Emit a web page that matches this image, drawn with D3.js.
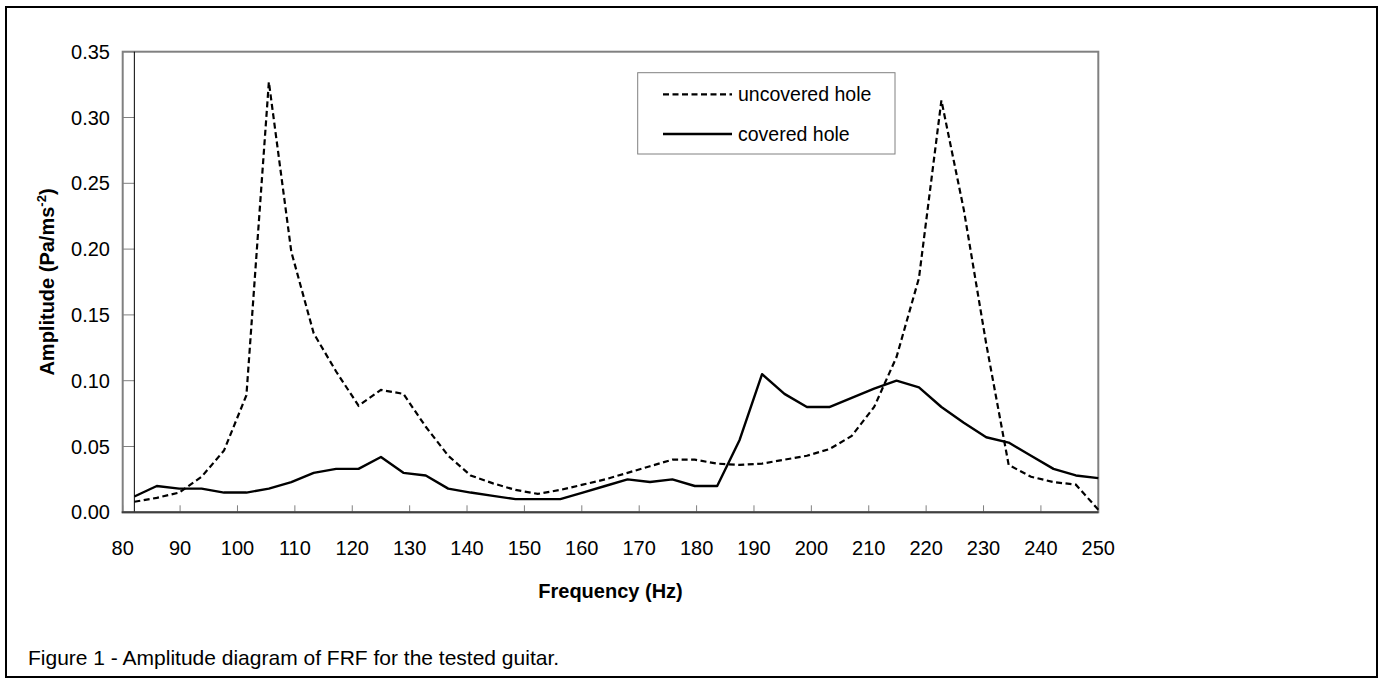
<!DOCTYPE html>
<html>
<head>
<meta charset="utf-8">
<script src="https://cdn.jsdelivr.net/npm/d3@7"></script>
<style>
  body { margin: 0; background: #fff; }
  svg { display: block; font-family: Arial, "Liberation Sans", sans-serif; }
</style>
</head>
<body>
<svg id="chart" width="1383" height="683"></svg>
<script>
// frequency bins (Hz)
const freqs = [
  82.03, 85.94, 89.84, 93.75, 97.66, 101.56, 105.47, 109.38, 113.28, 117.19,
  121.09, 125.00, 128.91, 132.81, 136.72, 140.63, 144.53, 148.44, 152.34, 156.25,
  160.16, 164.06, 167.97, 171.88, 175.78, 179.69, 183.59, 187.50, 191.41, 195.31,
  199.22, 203.13, 207.03, 210.94, 214.84, 218.75, 222.66, 226.56, 230.47, 234.38,
  238.28, 242.19, 246.09, 250.00
];
// amplitude, uncovered sound hole (dashed)
const uncovered = [
  0.008, 0.011, 0.015, 0.027, 0.047, 0.089, 0.327, 0.198, 0.136, 0.107,
  0.081, 0.093, 0.090, 0.065, 0.043, 0.028, 0.022, 0.017, 0.014, 0.017,
  0.021, 0.025, 0.030, 0.035, 0.040, 0.040, 0.037, 0.036, 0.037, 0.040,
  0.043, 0.048, 0.058, 0.080, 0.118, 0.178, 0.313, 0.230, 0.128, 0.036,
  0.027, 0.023, 0.021, 0.002
];
// amplitude, covered sound hole (solid)
const covered = [
  0.012, 0.020, 0.018, 0.018, 0.015, 0.015, 0.018, 0.023, 0.030, 0.033,
  0.033, 0.042, 0.030, 0.028, 0.018, 0.015, 0.0125, 0.010, 0.010, 0.010,
  0.015, 0.020, 0.025, 0.023, 0.025, 0.020, 0.020, 0.055, 0.105, 0.090,
  0.080, 0.080, 0.087, 0.094, 0.100, 0.095, 0.080, 0.068, 0.057, 0.053,
  0.043, 0.033, 0.028, 0.026
];
const xTicks = [80, 90, 100, 110, 120, 130, 140, 150, 160, 170, 180, 190, 200, 210, 220, 230, 240, 250];
const yTicks = [0, 0.05, 0.10, 0.15, 0.20, 0.25, 0.30, 0.35];
const seriesNames = ["uncovered hole", "covered hole"];

(() => {
  const svg = d3.select("#chart");
  const pLeft = 122.7, pRight = 1098.3, pTop = 51.7, pBottom = 512.3;

  const x = d3.scaleLinear().domain([80, 250]).range([pLeft, pRight]);
  const y = d3.scaleLinear().domain([0, 0.35]).range([pBottom, pTop]);

  // outer figure frame
  svg.append("rect")
    .attr("x", 6).attr("y", 7).attr("width", 1371).attr("height", 670)
    .attr("fill", "none").attr("stroke", "#000").attr("stroke-width", 2);

  // plot area border
  svg.append("rect")
    .attr("x", pLeft).attr("y", pTop).attr("width", pRight - pLeft).attr("height", pBottom - pTop)
    .attr("fill", "none").attr("stroke", "#808080").attr("stroke-width", 2);

  // y axis ticks (between frame and the value axis line)
  const axisX = x(freqs[0]);
  svg.append("g").selectAll("line")
    .data(yTicks)
    .enter().append("line")
    .attr("x1", pLeft).attr("x2", axisX)
    .attr("y1", d => y(d)).attr("y2", d => y(d))
    .attr("stroke", "#808080").attr("stroke-width", 1);

  svg.append("g").selectAll("text")
    .data(yTicks)
    .enter().append("text")
    .attr("x", 110).attr("y", d => y(d))
    .attr("dy", "0.35em")
    .attr("text-anchor", "end")
    .attr("font-size", 20)
    .text(d => d3.format(".2f")(d));

  // value axis line
  svg.append("line")
    .attr("x1", axisX).attr("x2", axisX)
    .attr("y1", pTop).attr("y2", pBottom)
    .attr("stroke", "#000").attr("stroke-width", 1);

  // x axis
  svg.append("g").selectAll("line")
    .data(xTicks)
    .enter().append("line")
    .attr("x1", d => x(d)).attr("x2", d => x(d))
    .attr("y1", pBottom).attr("y2", pBottom - 7)
    .attr("stroke", "#808080").attr("stroke-width", 1);

  svg.append("line")
    .attr("x1", pLeft - 1).attr("x2", pRight)
    .attr("y1", pBottom).attr("y2", pBottom)
    .attr("stroke", "#404040").attr("stroke-width", 2);

  svg.append("g").selectAll("text")
    .data(xTicks)
    .enter().append("text")
    .attr("x", d => x(d)).attr("y", 555)
    .attr("text-anchor", "middle")
    .attr("font-size", 20)
    .text(d => d);

  // axis titles
  svg.append("text")
    .attr("x", (pLeft + pRight) / 2).attr("y", 598)
    .attr("text-anchor", "middle")
    .attr("font-size", 20).attr("font-weight", "bold")
    .text("Frequency (Hz)");

  const yTitle = svg.append("text")
    .attr("transform", `translate(54,${(pTop + pBottom) / 2}) rotate(-90)`)
    .attr("text-anchor", "middle")
    .attr("font-size", 20).attr("font-weight", "bold");
  yTitle.append("tspan").text("Amplitude (Pa/ms");
  yTitle.append("tspan").attr("dy", -8).attr("font-size", 13).text("-2");
  yTitle.append("tspan").attr("dy", 8).text(")");

  // data lines
  const line = d3.line()
    .x((d, i) => x(freqs[i]))
    .y(d => y(d));

  svg.append("path")
    .datum(uncovered)
    .attr("d", line)
    .attr("fill", "none").attr("stroke", "#000")
    .attr("stroke-width", 2.2)
    .attr("stroke-dasharray", "6,3.5");

  svg.append("path")
    .datum(covered)
    .attr("d", line)
    .attr("fill", "none").attr("stroke", "#000")
    .attr("stroke-width", 2.4)
    .attr("stroke-linejoin", "round");

  // legend
  const legend = svg.append("g");
  legend.append("rect")
    .attr("x", 637.7).attr("y", 72.7).attr("width", 257.3).attr("height", 81.3)
    .attr("fill", "#fff").attr("stroke", "#808080").attr("stroke-width", 1);

  const legendRows = legend.selectAll("g.row")
    .data(seriesNames)
    .enter().append("g")
    .attr("class", "row")
    .attr("transform", (d, i) => `translate(0,${i === 0 ? 94.3 : 134})`);

  legendRows.append("line")
    .attr("x1", 663).attr("x2", 732)
    .attr("y1", 0).attr("y2", 0)
    .attr("stroke", "#000")
    .attr("stroke-width", (d, i) => i === 0 ? 2.2 : 2.4)
    .attr("stroke-dasharray", (d, i) => i === 0 ? "6,3.5" : null);

  legendRows.append("text")
    .attr("x", 738).attr("y", 0).attr("dy", "0.35em")
    .attr("font-size", 19.5)
    .text(d => d);

  // caption
  svg.append("text")
    .attr("x", 28).attr("y", 665)
    .attr("font-size", 21)
    .text("Figure 1 - Amplitude diagram of FRF for the tested guitar.");
})();
</script>
</body>
</html>
